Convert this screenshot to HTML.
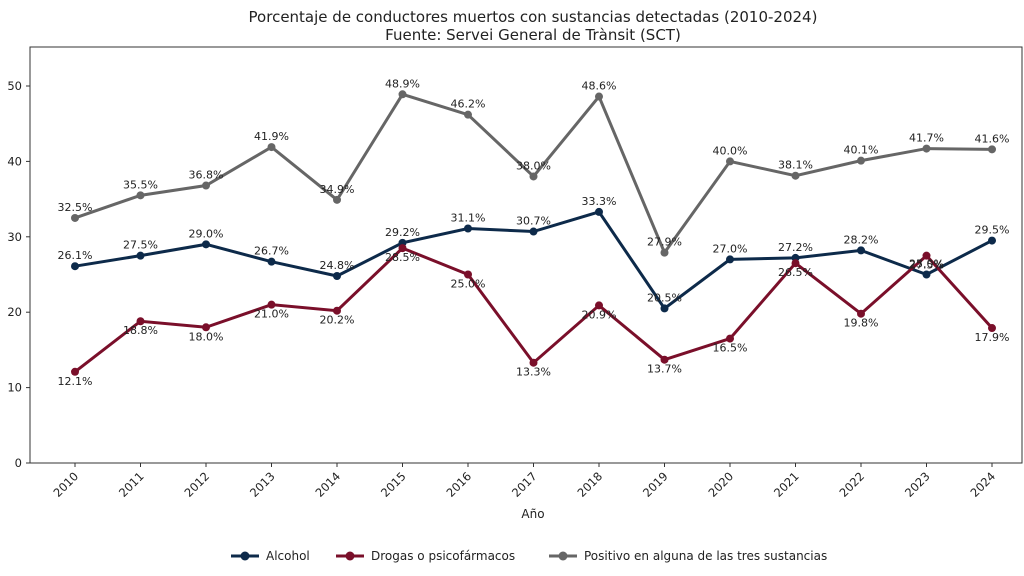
<!DOCTYPE html>
<html><head><meta charset="utf-8"><style>body{margin:0;background:#fff}svg{display:block;font-family:"DejaVu Sans","Liberation Sans",sans-serif}</style></head><body>
<svg id="s" width="1024" height="576" viewBox="0 0 1024 576" xmlns="http://www.w3.org/2000/svg">
<rect width="1024" height="576" fill="#fff"/>
<text x="533" y="22" font-size="15" text-anchor="middle" fill="#222">Porcentaje de conductores muertos con sustancias detectadas (2010-2024)</text>
<text x="533" y="40" font-size="15" text-anchor="middle" fill="#222">Fuente: Servei General de Trànsit (SCT)</text>
<rect x="30" y="47" width="992" height="416" fill="none" stroke="#333" stroke-width="1"/>
<g id="g"></g>
<text x="533" y="518" font-size="12" text-anchor="middle" fill="#222">Año</text>
<g font-size="12" fill="#222">
<line x1="231" y1="556" x2="259" y2="556" stroke="#0d2a4a" stroke-width="3"/><circle cx="245" cy="556" r="4.5" fill="#0d2a4a"/><text x="266" y="560">Alcohol</text>
<line x1="336" y1="556" x2="364" y2="556" stroke="#7a0f2a" stroke-width="3"/><circle cx="350" cy="556" r="4.5" fill="#7a0f2a"/><text x="371" y="560">Drogas o psicofármacos</text>
<line x1="549" y1="556" x2="577" y2="556" stroke="#666" stroke-width="3"/><circle cx="563" cy="556" r="4.5" fill="#666"/><text x="584" y="560">Positivo en alguna de las tres sustancias</text>
</g>
</svg>
<script>
var g=document.getElementById('g'),h='';
function X(i){return 75+i*65.5}function Y(v){return 463-v*7.54}
for(var v=0;v<=50;v+=10){h+='<line x1="26" x2="30" y1="'+Y(v)+'" y2="'+Y(v)+'" stroke="#333"/><text x="22" y="'+(Y(v)+4)+'" font-size="11.5" text-anchor="end" fill="#222">'+v+'</text>';}
for(var i=0;i<15;i++){var x=X(i);h+='<line x1="'+x+'" x2="'+x+'" y1="463" y2="467" stroke="#333"/><text transform="translate('+(x+4)+',477) rotate(-45)" font-size="11.5" text-anchor="end" fill="#222">'+(2010+i)+'</text>';}
var S=[[[26.1,27.5,29.0,26.7,24.8,29.2,31.1,30.7,33.3,20.5,27.0,27.2,28.2,25.0,29.5],'#0d2a4a',-7],
[[12.1,18.8,18.0,21.0,20.2,28.5,25.0,13.3,20.9,13.7,16.5,26.5,19.8,27.5,17.9],'#7a0f2a',13],
[[32.5,35.5,36.8,41.9,34.9,48.9,46.2,38.0,48.6,27.9,40.0,38.1,40.1,41.7,41.6],'#666',-7]];
S.forEach(function(s){var p=s[0].map(function(v,i){return X(i)+','+Y(v)}).join(' ');
h+='<polyline points="'+p+'" fill="none" stroke="'+s[1]+'" stroke-width="3"/>';
s[0].forEach(function(v,i){h+='<circle cx="'+X(i)+'" cy="'+Y(v)+'" r="4" fill="'+s[1]+'"/>';});});
S.forEach(function(s){s[0].forEach(function(v,i){h+='<text x="'+X(i)+'" y="'+(Y(v)+s[2])+'" font-size="11" text-anchor="middle" fill="#222">'+v.toFixed(1)+'%</text>';});});
g.innerHTML=h;
</script>
</body></html>
